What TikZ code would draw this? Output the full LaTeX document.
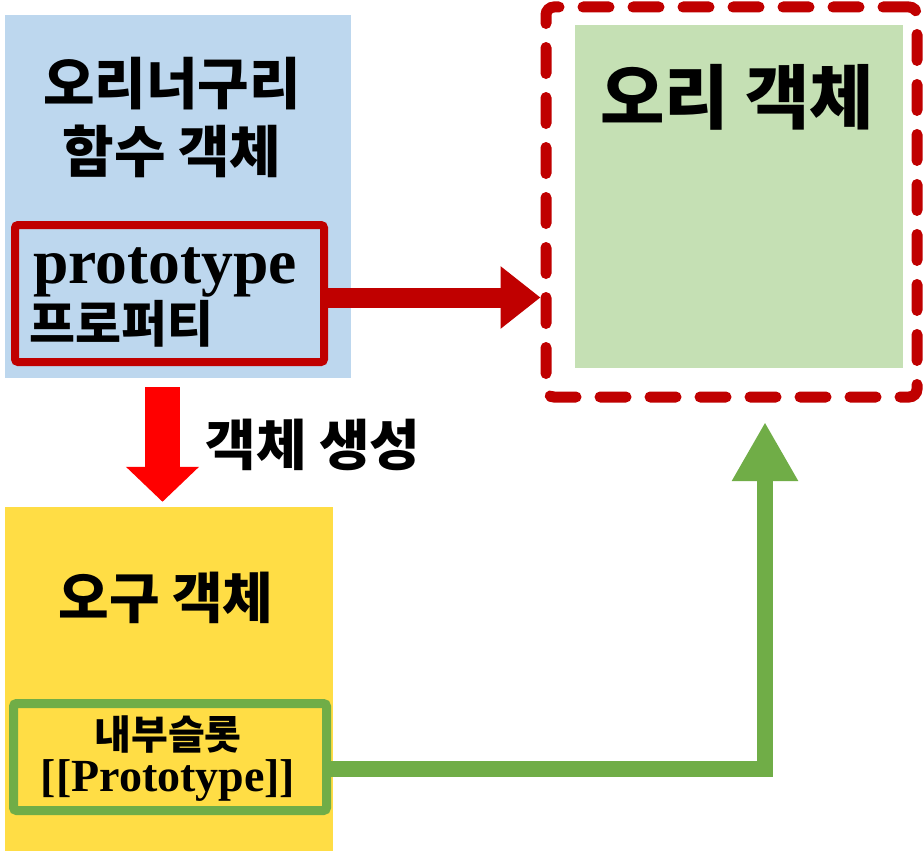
\documentclass[tikz,border=0pt]{standalone}
\usepackage{fontspec}
\setmainfont{Liberation Serif}
\newfontfamily\krfont{Noto Sans CJK KR}
\usetikzlibrary{arrows.meta, positioning}
\definecolor{funcblue}{HTML}{BDD7EE}
\definecolor{protored}{HTML}{C00000}
\definecolor{makered}{HTML}{FF0000}
\definecolor{duckgreen}{HTML}{C5E0B4}
\definecolor{slotgreen}{HTML}{70AD47}
\definecolor{objyellow}{HTML}{FFDD45}
\newcommand{\krtext}[2]{\krfont\bfseries\fontsize{#1}{#2}\selectfont}
\newcommand{\entext}[2]{\rmfamily\bfseries\fontsize{#1}{#2}\selectfont}
\tikzset{
	panelnode/.style={
			shape=rectangle,
			draw=none,
			inner sep=0pt
		},
	framenode/.style={
			panelnode,
			rounded corners=3pt
		},
	labelnode/.style={
			inner sep=0pt,
			text=black
		}
}

\begin{document}
\begin{tikzpicture}[x=1pt, y=-1pt]

  \useasboundingbox[fill=white] (0,0) rectangle (924,851);

  % function object with its prototype property
  \node[panelnode, fill=funcblue, minimum width=346, minimum height=363] (func) at (178,196.5) {};
  \node[framenode, draw=protored, line width=8pt, minimum width=309, minimum height=137] (proto) at (169.5,293.5) {};

  % duck object
  \node[framenode, draw=protored, line width=11pt, dash pattern=on 26pt off 24pt, line cap=round, rounded corners=8pt, minimum width=371, minimum height=390] (duckframe) at (731.5,202) {};
  \node[panelnode, fill=duckgreen, minimum width=328, minimum height=343] (duck) at (739,196.5) {};

  % ogu object
  \node[panelnode, fill=objyellow, minimum width=328, minimum height=344] (ogu) at (169,679) {};
  \node[framenode, draw=slotgreen, line width=9pt, minimum width=313, minimum height=107] (slot) at (170,757) {};

  \node[labelnode, anchor=base, align=center, font=\krtext{56}{68}] (functitle) at (172,172) {오리너구리\\함수 객체};
  \node[labelnode, anchor=base west, font=\entext{63.6}{70}] (protoen) at (33,283) {prototype};
  \node[labelnode, anchor=base west, font=\krtext{50}{55}] (protokr) at (29,342) {프로퍼티};
  \node[labelnode, anchor=base, font=\krtext{70}{75}] (ducktitle) at (737,123) {오리 객체};
  \node[labelnode, anchor=base, font=\krtext{55}{60}] (makelabel) at (313,465) {객체 생성};
  \node[labelnode, anchor=base, font=\krtext{55}{60}] (ogutitle) at (166,618) {오구 객체};
  \node[labelnode, anchor=base, font=\krtext{40}{44}] (slotkr) at (168,749) {내부슬롯};
  \node[labelnode, anchor=base, font=\entext{46}{50}] (sloten) at (168,791) {[[Prototype]]};

  \coordinate (slotup) at (765,422);

  \draw[protored, line width=20pt, -{Triangle[length=40pt, width=60pt]}] ([yshift=-4pt]proto.east) -- ([yshift=-4pt]proto.east -| duckframe.west);
  \draw[makered, line width=35pt, -{Triangle[length=35pt, width=71pt]}] ([xshift=-15.5pt, yshift=-9pt]func.south) -- ([xshift=-6.5pt, yshift=5pt]ogu.north);
  \draw[slotgreen, line width=16pt, -{Triangle[length=59pt, width=62pt]}] ([yshift=-12pt]slot.east) -| (slotup);

\end{tikzpicture}
\end{document}
